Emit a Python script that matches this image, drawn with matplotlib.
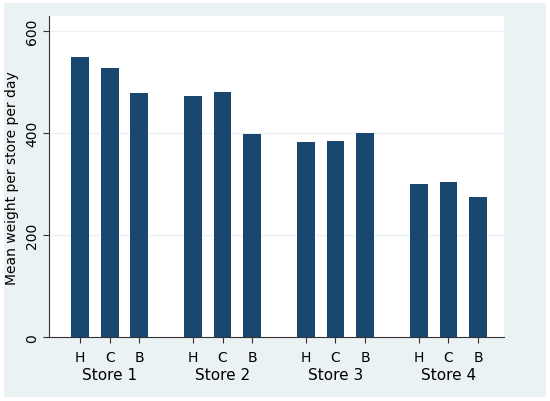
import matplotlib

matplotlib.use("Agg")

import matplotlib.pyplot as plt

stores = ["Store 1", "Store 2", "Store 3", "Store 4"]
types = ["H", "C", "B"]
values = [
    [549, 528, 478],
    [473, 481, 398],
    [383, 385, 399],
    [300, 304, 275],
]
yticks = [0, 200, 400, 600]

W, H = 550, 402
fig = plt.figure(figsize=(W / 100, H / 100), dpi=100, facecolor="white")

# light graph region with a thin white margin
bg = fig.add_axes([4 / W, 4 / H, 1 - 8 / W, 1 - 8 / H], zorder=-1)
bg.set_facecolor("#EAF2F3")
bg.set_xticks([])
bg.set_yticks([])
for s in bg.spines.values():
    s.set_visible(False)

ax = fig.add_axes([49.3 / W, 1 - 338.3 / H, (504 - 49.3) / W, (338.3 - 17) / H])
ax.set_facecolor("white")

step = 3.8
xs, labels = [], []
for g, row in enumerate(values):
    for i, v in enumerate(row):
        x = g * step + i
        xs.append(x)
        labels.append(types[i])
        ax.bar(x, v, width=0.6, color="#1A476F", zorder=3)

ax.set_xlim(-1.03, 3 * step + 2 + 0.87)
ax.set_ylim(0, 629)
ax.set_yticks(yticks)
ax.set_yticklabels([str(t) for t in yticks], rotation=90, va="center", fontsize=10)
ax.set_xticks(xs)
ax.set_xticklabels(labels, fontsize=10)
ax.tick_params(axis="x", length=4, pad=5, color="#333333")
ax.tick_params(axis="y", length=4, color="#333333")
for t in yticks[1:]:
    ax.axhline(t, color="#EAF2F3", lw=1, zorder=1)
for s in ["top", "right"]:
    ax.spines[s].set_visible(False)
for s in ["left", "bottom"]:
    ax.spines[s].set_color("#333333")
ax.set_ylabel("Mean weight per store per day", fontsize=10)

for g, name in enumerate(stores):
    ax.text(g * step + 1, -37 / 0.511, name, ha="center", va="center", fontsize=11,
            clip_on=False)

fig.savefig("out.png", dpi=100, facecolor=fig.get_facecolor())
